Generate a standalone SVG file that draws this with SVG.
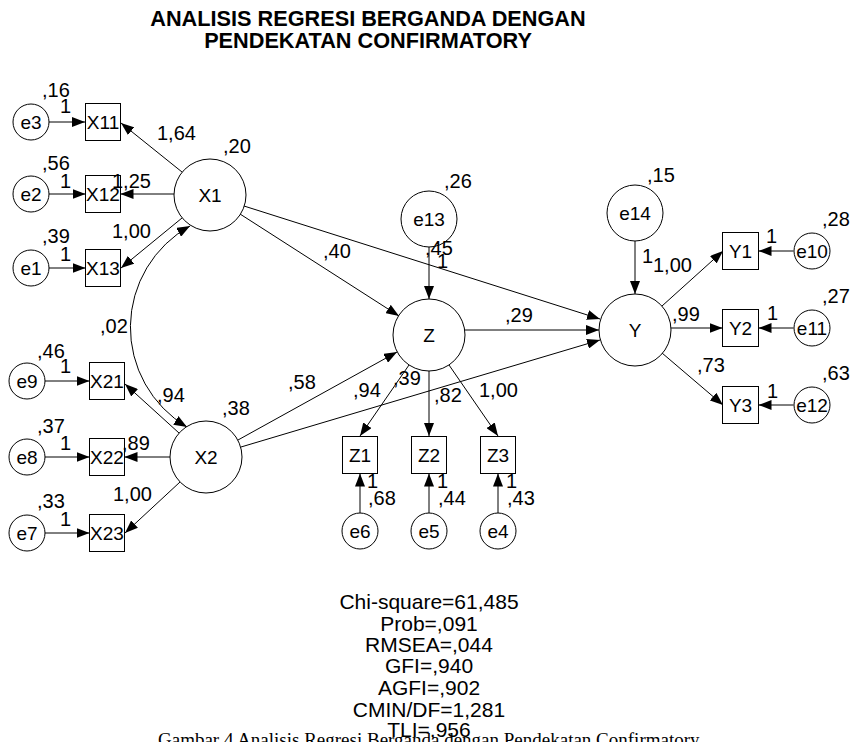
<svg xmlns="http://www.w3.org/2000/svg" width="850" height="742" viewBox="0 0 850 742">
<style>
.n{fill:#fff;stroke:#000;stroke-width:1}
.t{font-family:"Liberation Sans",Arial,sans-serif;font-size:19px;text-anchor:middle;fill:#000}
.l{font-family:"Liberation Sans",Arial,sans-serif;font-size:20px;fill:#000}
.s{font-family:"Liberation Sans",Arial,sans-serif;font-size:21px;text-anchor:middle;fill:#000}
.h{font-family:"Liberation Sans",Arial,sans-serif;font-size:21.7px;font-weight:bold;text-anchor:middle;fill:#000}
.c{fill:none;stroke:#000;stroke-width:1;marker-end:url(#ah)}
</style>
<defs>
<marker id="ah" viewBox="0 0 13 10" refX="13" refY="5" markerWidth="13" markerHeight="10" markerUnits="userSpaceOnUse" orient="auto-start-reverse"><path d="M0,0 L13,5 L0,10 z" fill="#000"/></marker>
</defs>
<rect width="850" height="742" fill="#fff"/>
<text class="h" x="368" y="26">ANALISIS REGRESI BERGANDA DENGAN</text>
<text class="h" x="368" y="48">PENDEKATAN CONFIRMATORY</text>

<g id="connectors">
<path class="c" d="M49,122 H85"/>
<path class="c" d="M49,194 H85.5"/>
<path class="c" d="M49,268 H85.5"/>
<path class="c" d="M45,381 H89.5"/>
<path class="c" d="M45,457 H89.5"/>
<path class="c" d="M45,533 H89.5"/>
<path class="c" d="M182,172 L121,123"/>
<path class="c" d="M174,194 H120.5"/>
<path class="c" d="M182,218 L121,268"/>
<path class="c" d="M179,433 L125,384"/>
<path class="c" d="M170,457 H124.5"/>
<path class="c" d="M180,482 L125,533"/>
<path class="c" style="marker-start:url(#ah)" d="M190,226 A116,116 0 0 0 187,427"/>
<path class="c" d="M240,214 L399,316"/>
<path class="c" d="M244,206 L600,319"/>
<path class="c" d="M238,440 L397,352"/>
<path class="c" d="M241,447 L600,340"/>
<path class="c" d="M465,330 H599"/>
<path class="c" d="M429,247 V299"/>
<path class="c" d="M635,241 V294"/>
<path class="c" d="M409,365 L360,436"/>
<path class="c" d="M429,371 V436"/>
<path class="c" d="M449,365 L498,436"/>
<path class="c" d="M360,513 V473.5"/>
<path class="c" d="M429,513 V473.5"/>
<path class="c" d="M498,513 V473.5"/>
<path class="c" d="M662,306 L723,251"/>
<path class="c" d="M671,328 H722.5"/>
<path class="c" d="M662,353 L723,405"/>
<path class="c" d="M793.5,251 H758.5"/>
<path class="c" d="M793.5,328 H758.5"/>
<path class="c" d="M793.5,405 H758.5"/>
</g>

<g id="X1"><circle class="n" cx="210" cy="195" r="36"/><text class="t" x="210" y="202">X1</text></g>
<g id="X2"><circle class="n" cx="206" cy="457" r="36"/><text class="t" x="206" y="464">X2</text></g>
<g id="Z"><circle class="n" cx="429" cy="335" r="36"/><text class="t" x="429" y="342">Z</text></g>
<g id="Y"><circle class="n" cx="635" cy="330" r="36"/><text class="t" x="635" y="337">Y</text></g>
<g id="e13"><circle class="n" cx="429" cy="219" r="28"/><text class="t" x="429" y="226">e13</text></g>
<g id="e14"><circle class="n" cx="635" cy="213" r="28"/><text class="t" x="635" y="220">e14</text></g>

<g id="e3"><circle class="n" cx="31" cy="122" r="18"/><text class="t" x="31" y="129">e3</text></g>
<g id="e2"><circle class="n" cx="31" cy="194" r="18"/><text class="t" x="31" y="201">e2</text></g>
<g id="e1"><circle class="n" cx="31" cy="268" r="18"/><text class="t" x="31" y="275">e1</text></g>
<g id="e9"><circle class="n" cx="27" cy="381" r="18"/><text class="t" x="27" y="388">e9</text></g>
<g id="e8"><circle class="n" cx="27" cy="457" r="18"/><text class="t" x="27" y="464">e8</text></g>
<g id="e7"><circle class="n" cx="27" cy="533" r="18"/><text class="t" x="27" y="540">e7</text></g>
<g id="e6"><circle class="n" cx="360" cy="531" r="18"/><text class="t" x="360" y="538">e6</text></g>
<g id="e5"><circle class="n" cx="429" cy="531" r="18"/><text class="t" x="429" y="538">e5</text></g>
<g id="e4"><circle class="n" cx="498" cy="531" r="18"/><text class="t" x="498" y="538">e4</text></g>
<g id="e10"><circle class="n" cx="812" cy="251" r="18"/><text class="t" x="812" y="258">e10</text></g>
<g id="e11"><circle class="n" cx="812" cy="328" r="18"/><text class="t" x="812" y="335">e11</text></g>
<g id="e12"><circle class="n" cx="812" cy="405" r="18"/><text class="t" x="812" y="412">e12</text></g>

<g id="X11"><rect class="n" x="85.5" y="103.5" width="35" height="37"/><text class="t" x="103" y="129">X11</text></g>
<g id="X12"><rect class="n" x="85.5" y="175.5" width="35" height="37"/><text class="t" x="103" y="201">X12</text></g>
<g id="X13"><rect class="n" x="85.5" y="249.5" width="35" height="37"/><text class="t" x="103" y="275">X13</text></g>
<g id="X21"><rect class="n" x="89.5" y="362.5" width="35" height="37"/><text class="t" x="107" y="388">X21</text></g>
<g id="X22"><rect class="n" x="89.5" y="438.5" width="35" height="37"/><text class="t" x="107" y="464">X22</text></g>
<g id="X23"><rect class="n" x="89.5" y="514.5" width="35" height="37"/><text class="t" x="107" y="540">X23</text></g>
<g id="Z1"><rect class="n" x="342.5" y="436.5" width="35" height="37"/><text class="t" x="360" y="462">Z1</text></g>
<g id="Z2"><rect class="n" x="411.5" y="436.5" width="35" height="37"/><text class="t" x="429" y="462">Z2</text></g>
<g id="Z3"><rect class="n" x="480.5" y="436.5" width="35" height="37"/><text class="t" x="498" y="462">Z3</text></g>
<g id="Y1"><rect class="n" x="722.5" y="232.5" width="36" height="37"/><text class="t" x="740.5" y="258">Y1</text></g>
<g id="Y2"><rect class="n" x="722.5" y="309.5" width="36" height="37"/><text class="t" x="740.5" y="335">Y2</text></g>
<g id="Y3"><rect class="n" x="722.5" y="386.5" width="36" height="37"/><text class="t" x="740.5" y="412">Y3</text></g>

<g id="labels">
<text class="l" x="42" y="97">,16</text>
<text class="l" x="60" y="113">1</text>
<text class="l" x="42" y="170">,56</text>
<text class="l" x="60" y="188">1</text>
<text class="l" x="42" y="243">,39</text>
<text class="l" x="60" y="261">1</text>
<text class="l" x="37" y="358">,46</text>
<text class="l" x="60" y="373">1</text>
<text class="l" x="37" y="433">,37</text>
<text class="l" x="60" y="450">1</text>
<text class="l" x="37" y="508">,33</text>
<text class="l" x="60" y="526">1</text>
<text class="l" x="157" y="140">1,64</text>
<text class="l" x="223" y="153">,20</text>
<text class="l" x="112" y="188">1,25</text>
<text class="l" x="112" y="238">1,00</text>
<text class="l" x="100" y="333">,02</text>
<text class="l" x="157" y="402">,94</text>
<text class="l" x="222" y="415">,38</text>
<text class="l" x="122" y="450">,89</text>
<text class="l" x="113" y="501">1,00</text>
<text class="l" x="323" y="258">,40</text>
<text class="l" x="444" y="188">,26</text>
<text class="l" x="425" y="255">,45</text>
<text class="l" x="437" y="268">1</text>
<text class="l" x="505" y="322">,29</text>
<text class="l" x="288" y="389">,58</text>
<text class="l" x="353" y="397">,94</text>
<text class="l" x="393" y="385">,39</text>
<text class="l" x="434" y="402">,82</text>
<text class="l" x="479" y="397">1,00</text>
<text class="l" x="367" y="488">1</text>
<text class="l" x="368" y="505">,68</text>
<text class="l" x="437" y="488">1</text>
<text class="l" x="438" y="505">,44</text>
<text class="l" x="506" y="488">1</text>
<text class="l" x="507" y="505">,43</text>
<text class="l" x="647" y="182">,15</text>
<text class="l" x="642" y="263">1</text>
<text class="l" x="653" y="272">1,00</text>
<text class="l" x="766" y="243">1</text>
<text class="l" x="822" y="226">,28</text>
<text class="l" x="672" y="321">,99</text>
<text class="l" x="767" y="320">1</text>
<text class="l" x="822" y="303">,27</text>
<text class="l" x="697" y="372">,73</text>
<text class="l" x="767" y="398">1</text>
<text class="l" x="822" y="380">,63</text>
</g>

<g id="stats">
<text class="s" x="429" y="609">Chi-square=61,485</text>
<text class="s" x="429" y="631">Prob=,091</text>
<text class="s" x="429" y="652">RMSEA=,044</text>
<text class="s" x="429" y="673">GFI=,940</text>
<text class="s" x="429" y="695">AGFI=,902</text>
<text class="s" x="429" y="717">CMIN/DF=1,281</text>
<text class="s" x="429" y="737">TLI=,956</text>
</g>
<text x="158" y="746" font-family="'Liberation Serif','Times New Roman',serif" font-size="19">Gambar 4 Analisis Regresi Berganda dengan Pendekatan Confirmatory</text>
</svg>
